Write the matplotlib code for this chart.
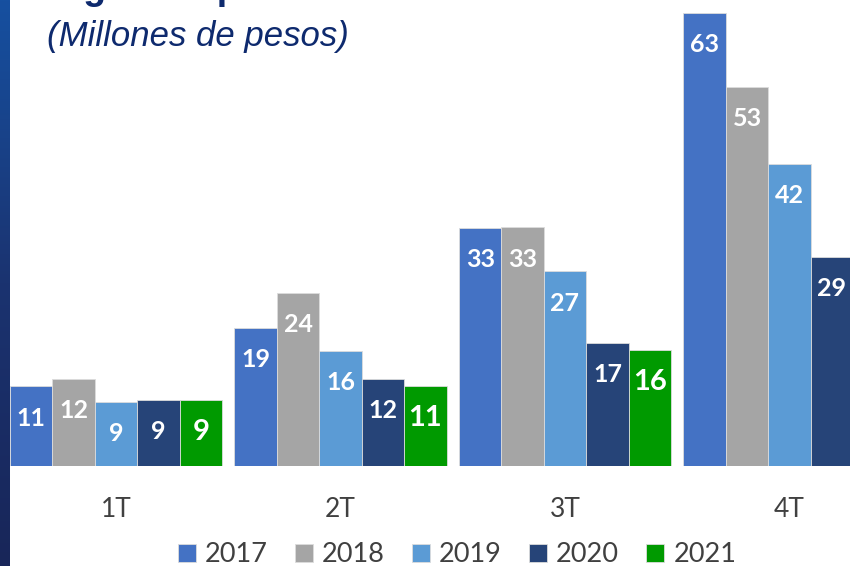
import numpy as np
import matplotlib
matplotlib.use('Agg')
import matplotlib.pyplot as plt
from matplotlib.colors import LinearSegmentedColormap

quarters = ['1T', '2T', '3T', '4T']
years = ['2017', '2018', '2019', '2020', '2021']
v2017 = [11.1, 19.2, 33.1, 63.0]
v2018 = [12.1, 24.1, 33.2, 52.7]
v2019 = [8.9, 16.0, 27.1, 42.0]
v2020 = [9.2, 12.1, 17.1, 29.1]
v2021 = [9.2, 11.1, 16.1, np.nan]
series = [v2017, v2018, v2019, v2020, v2021]
colors = ['#4472C4', '#A5A5A5', '#5B9BD5', '#264478', '#009A00']

W, H = 850, 566
fig = plt.figure(figsize=(W / 100, H / 100), dpi=100)
fig.patch.set_facecolor('white')

ax = fig.add_axes([0, 100 / H, 1, 466 / H])
x = np.arange(len(quarters))
bw = 0.189
for j, (vals, c) in enumerate(zip(series, colors)):
    pos = x + (j - 2) * bw
    ax.bar(pos, vals, width=bw, color=c, edgecolor='#dcdcdc', linewidth=0.6, label=years[j])
    for px, v in zip(pos, vals):
        if np.isnan(v):
            continue
        fs = 21 if j == 4 else 18
        ax.annotate(f'{v:.0f}', (px, v), xytext=(0, -23), textcoords='offset points',
                    ha='center', va='center', color='white', fontsize=fs,
                    fontweight='bold', family='Lato')

ax.set_xlim(-0.5167, 3.2695)
ax.set_ylim(0, 64.8)
ax.set_xticks(x)
ax.set_xticklabels(quarters, fontsize=19, family='Lato', color='#404040')
ax.tick_params(axis='x', length=0, pad=22)
ax.set_yticks([])
for s in ax.spines.values():
    s.set_visible(False)

fig.legend(loc='center', bbox_to_anchor=(457 / W, 11 / H), ncol=5, frameon=False,
           prop={'family': 'Lato', 'size': 19.5}, labelcolor='#404040',
           handlelength=0.66, handleheight=0.66, handletextpad=0.34,
           columnspacing=1.0, borderaxespad=0, borderpad=0)

# titulo (cortado arriba) y subtitulo
fig.text(50 / W, 1 + 1 / H, 'Ingresos por Trimestre', fontsize=27, fontweight='bold',
         family='Liberation Sans', color='#0e2a6e', va='baseline', ha='left')
fig.text(47 / W, 1 - 46 / H, '(Millones de pesos)', fontsize=25, style='italic',
         family='Liberation Sans', color='#0e2a6e', va='baseline', ha='left')

# franja azul a la izquierda
sax = fig.add_axes([0, 0, 10 / W, 1])
cmap = LinearSegmentedColormap.from_list('franja', ['#1650a0', '#1b3370', '#182659'])
sax.imshow(np.linspace(0, 1, 200).reshape(-1, 1), cmap=cmap, aspect='auto')
sax.axis('off')

fig.savefig('out.png', dpi=100)
